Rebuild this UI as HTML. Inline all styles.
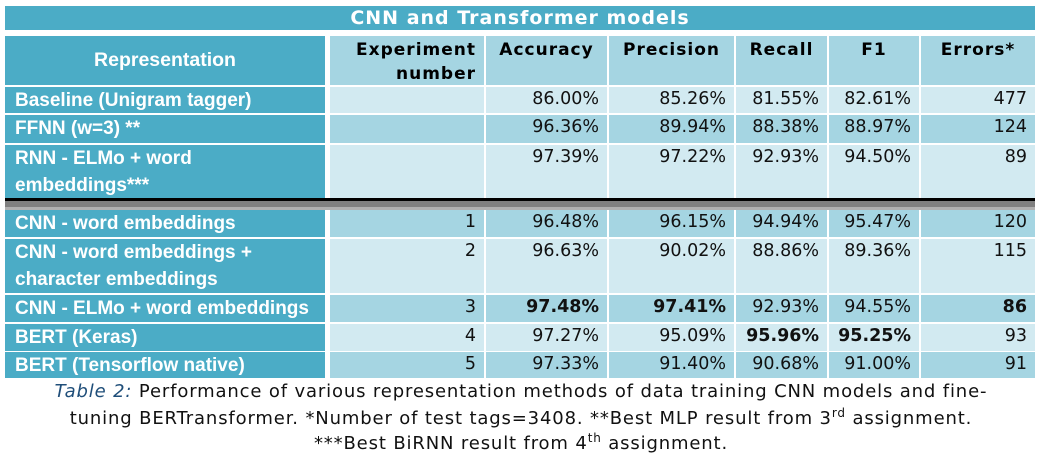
<!DOCTYPE html>
<html><head><meta charset="utf-8"><style>
body{margin:0;width:1042px;height:461px;background:#fff;position:relative;overflow:hidden;font-family:"DejaVu Sans","Liberation Sans",sans-serif}
.c{position:absolute;box-sizing:border-box;font-size:17.5px;color:#111}
.rep{font-family:"Liberation Sans",sans-serif;font-weight:bold;color:#fff;font-size:19px;padding-left:10px;background:#4BACC6;line-height:27px}
.num{text-align:right;padding-right:8px;padding-top:2px}
.hd{font-weight:bold;font-size:17px;letter-spacing:1px;text-align:center;padding-top:2px;line-height:24px;color:#000}
.cap{position:absolute;left:0;width:1042px;text-align:center;font-size:18px;letter-spacing:0.85px;color:#111}
</style></head><body>
<div class="c" style="left:5px;top:6px;width:1030px;height:24px;background:#4BACC6;color:#fff;font-weight:bold;font-size:19px;letter-spacing:1px;text-align:center;line-height:24px">CNN and Transformer models</div>
<div id="tbl"></div>
<div class="c" style="left:5px;top:198px;width:1030px;height:3px;background:#000"></div>
<div class="c" style="left:5px;top:201px;width:1030px;height:6px;background:#808080"></div>
<div class="c" style="left:5px;top:207px;width:1030px;height:3px;background:#b0b0b0"></div>
<div class="cap" style="top:381px"><span style="color:#1f4e79;font-style:italic">Table 2:</span> Performance of various representation methods of data training CNN models and fine-</div>
<div class="cap" style="top:406px">tuning BERTransformer. *Number of test tags=3408. **Best MLP result from 3<sup style="font-size:12px">rd</sup> assignment.</div>
<div class="cap" style="top:431px">***Best BiRNN result from 4<sup style="font-size:12px">th</sup> assignment.</div>
<script>
const cols=[[5,320],[330,154],[486,121],[609,125],[736,91],[829,90],[921,114]];
const headers=["Representation","Experiment<br>number","Accuracy","Precision","Recall","F1","Errors*"];
const reps=["Baseline (Unigram tagger)","FFNN (w=3) **","RNN - ELMo + word<br>embeddings***","CNN - word embeddings","CNN - word embeddings +<br>character embeddings","CNN - ELMo + word embeddings","BERT (Keras)","BERT (Tensorflow native)"];
const exps=["","","","1","2","3","4","5"];
const acc=["86.00%","96.36%","97.39%","96.48%","96.63%","<b>97.48%</b>","97.27%","97.33%"];
const prec=["85.26%","89.94%","97.22%","96.15%","90.02%","<b>97.41%</b>","95.09%","91.40%"];
const rec=["81.55%","88.38%","92.93%","94.94%","88.86%","92.93%","<b>95.96%</b>","90.68%"];
const f1=["82.61%","88.97%","94.50%","95.47%","89.36%","94.55%","<b>95.25%</b>","91.00%"];
const errs=["477","124","89","120","115","<b>86</b>","93","91"];
const rows=[[87,26],[115,28],[145,53],[210,27],[239,54],[295,27],[324,27],[352,26]];
const tbl=document.getElementById('tbl');
headers.forEach((h,i)=>{const d=document.createElement('div');


d.className='c hd';d.innerHTML=h;
d.style.cssText+=`left:${cols[i][0]}px;top:36px;width:${cols[i][1]}px;height:49px;`;
if(i==0){d.style.background='#4BACC6';d.style.color='#fff';d.style.fontFamily='"Liberation Sans",sans-serif';d.style.fontSize='19.5px';d.style.letterSpacing='0';d.style.lineHeight='49px';d.style.paddingTop='0';}
else{d.style.background='#A5D5E2';if(i==1){d.style.textAlign='right';d.style.paddingRight='8px';}}
tbl.appendChild(d);});
rows.forEach((r,j)=>{const vals=[reps[j],exps[j],acc[j],prec[j],rec[j],f1[j],errs[j]];
const bg=(j%2==0)?'#D2EAF1':'#A5D5E2';
vals.forEach((v,i)=>{const d=document.createElement('div');


d.className='c '+(i==0?'rep':'num');d.innerHTML=v;
d.style.cssText+=`left:${cols[i][0]}px;top:${r[0]}px;width:${cols[i][1]}px;height:${r[1]}px;`;
if(i>0)d.style.background=bg;tbl.appendChild(d);});});
</script>
</body></html>
